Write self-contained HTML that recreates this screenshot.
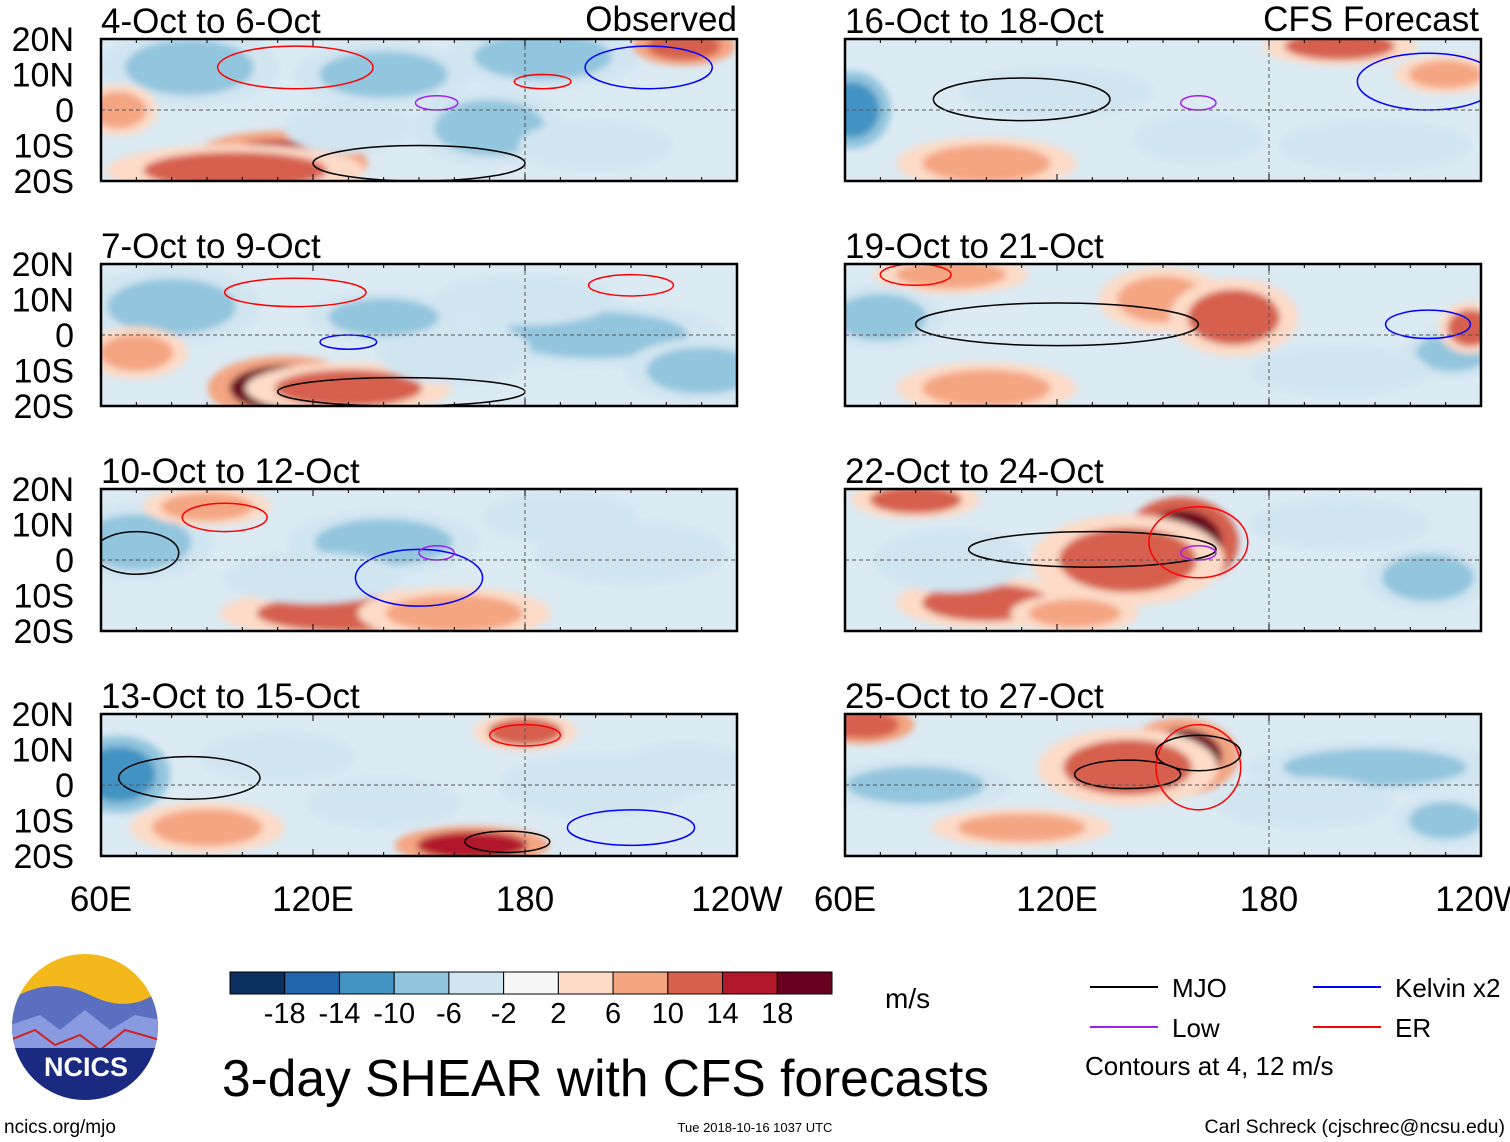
<!DOCTYPE html>
<html><head><meta charset="utf-8">
<style>
body{margin:0;background:#fff;width:1510px;height:1142px;overflow:hidden;font-family:"Liberation Sans",sans-serif}
svg{position:absolute;left:0;top:0}
</style></head>
<body>
<svg id="chart" width="1510" height="1142" viewBox="0 0 1510 1142" xmlns="http://www.w3.org/2000/svg">
<defs><filter id="blur" x="-20%" y="-20%" width="140%" height="140%"><feGaussianBlur stdDeviation="3.5"/></filter></defs>
<g id="panels"></g>
<g id="legend"></g>
</svg>
<script>
// colorbar levels and colors
const levelEdges=[-22,-18,-14,-10,-6,-2,2,6,10,14,18,22];
const levelLabels=["-18","-14","-10","-6","-2","2","6","10","14","18"];
const levelColors=["#0b2f5e","#2166ac","#4393c3","#92c5de","#d1e5f0","#f7f7f7","#fddbc7","#f4a582","#d6604d","#b2182b","#67001f"];
const panelTitles=["4-Oct to 6-Oct","7-Oct to 9-Oct","10-Oct to 12-Oct","13-Oct to 15-Oct","16-Oct to 18-Oct","19-Oct to 21-Oct","22-Oct to 24-Oct","25-Oct to 27-Oct"];
const latTicks=["20N","10N","0","10S","20S"];
const lonTicks=["60E","120E","180","120W"];
// anomaly blobs: panel, lon, lat, value, lon-radius, lat-radius
const blobPanel=[0,0,0,0,0,0,0,0,0,0, 1,1,1,1,1,1,1,1,1, 2,2,2,2,2,2,2,2, 3,3,3,3,3,3,3,3, 4,4,4,4,4,4,4, 5,5,5,5,5,5,5,5, 6,6,6,6,6,6,6,6, 7,7,7,7,7,7,7,7];
const blobLon=[85,185,110,98,225,170,65,140,200,130, 112,130,80,200,230,70,160,180,140, 130,160,70,140,90,210,120,190, 65,165,180,110,90,200,140,225, 62,200,100,230,160,120,210, 90,150,170,70,232,100,237,200, 155,140,80,100,125,225,200,90, 155,140,65,80,210,110,230,190];
const blobLat=[12,15,-15,-17,18,-5,0,10,-10,-5, -15,-15,8,0,-10,-5,-5,10,5, -15,-15,5,5,15,2,-5,12, 3,-17,15,8,-12,0,-5,5, 0,18,-15,10,-8,5,-10, 17,10,5,5,-5,-15,2,-10, 5,0,17,-12,-15,-5,10,0, 8,5,17,0,5,-12,-10,-5];
const blobVal=[-10,-10,16,10,12,-8,6,-8,-6,-6, 18,10,-10,-8,-8,6,-6,-6,-8, 10,8,-10,-10,6,-6,-6,-6, -14,14,10,-6,6,-6,-6,-6, -12,10,6,6,-6,-4,-4, 8,8,10,-8,-10,6,10,-4, 20,10,10,10,6,-10,-6,-6, 18,10,12,-10,-8,8,-10,-6];
const blobRx=[14,15,14,20,8,12,6,14,12,10, 12,16,14,20,12,8,12,14,12, 20,15,12,15,10,15,14,12, 8,12,8,12,12,15,12,10, 6,12,14,8,10,15,15, 12,10,10,10,8,14,5,14, 9,15,10,14,10,10,14,12, 9,14,8,15,20,14,8,14];
const blobRy=[6,5,5,4,3,6,4,5,4,4, 5,4,6,5,5,4,5,4,4, 4,4,6,5,3,5,4,4, 6,3,3,4,4,5,4,4, 6,3,4,3,4,4,4, 3,5,6,5,4,4,4,4, 7,7,3,4,3,5,4,5, 6,6,3,4,4,3,4,4];
// contours: panel, type(0 MJO,1 Low,2 Kelvin,3 ER), lon, lat, rx, ry
const cPanel=[0,0,0,0,0,1,1,1,1,2,2,2,2,3,3,3,3,4,4,4,5,5,5,6,6,6,7,7,7];
const cType=[3,3,0,2,1,3,3,0,2,0,3,2,1,0,0,2,3,0,2,1,0,3,2,0,3,1,0,3,0];
const cLon=[115,185,150,215,155,115,210,145,130,70,95,150,155,85,175,210,180,110,225,160,120,80,225,130,160,160,140,160,160];
const cLat=[12,8,-15,12,2,12,14,-16,-2,2,12,-5,2,2,-16,-12,14,3,8,2,3,17,3,3,5,2,3,5,9];
const cRx=[22,8,30,18,6,20,12,35,8,12,12,18,5,20,12,18,10,25,20,5,40,10,12,35,14,5,15,12,12];
const cRy=[6,2,5,6,2,4,3,4,2,6,4,8,2,6,3,5,3,6,8,2,6,3,4,5,10,2,4,12,5];
const cColors=["#000","#a020f0","#0000ff","#ff0000"];

const NS="http://www.w3.org/2000/svg";
const panelsG=document.getElementById('panels');
const PW=636, PH=142;
const panelX=[101,101,101,101,845,845,845,845];
const panelY=[39,264,489,714,39,264,489,714];
function xScale(p,lon){return panelX[p]+(lon-60)/180*PW;}
function yScale(p,lat){return panelY[p]+(20-lat)/40*PH;}
function colorFor(v){for(let i=0;i<levelColors.length;i++){if(v<levelEdges[i+1])return levelColors[i];}return levelColors[levelColors.length-1];}
function mk(tag,attrs,parent){const e=document.createElementNS(NS,tag);for(const k in attrs)e.setAttribute(k,attrs[k]);parent.appendChild(e);return e;}
function txt(x,y,s,size,anchor,parent){const t=mk('text',{x:x,y:y,'font-size':size,'text-anchor':anchor||'start',fill:'#000','font-family':'Liberation Sans, sans-serif'},parent);t.textContent=s;return t;}

for(let p=0;p<8;p++){
  const g=mk('g',{},panelsG);
  
  
  const cp=mk('clipPath',{id:'clip'+p},g);
  mk('rect',{x:panelX[p],y:panelY[p],width:PW,height:PH},cp);
  const inner=mk('g',{'clip-path':'url(#clip'+p+')'},g);
  mk('rect',{x:panelX[p],y:panelY[p],width:PW,height:PH,fill:'#dceaf3'},inner);
  const bg=mk('g',{filter:'url(#blur)'},inner);
  for(let i=0;i<blobPanel.length;i++){
    if(blobPanel[i]!==p)continue;
    const v=blobVal[i];
    const cx=xScale(p,blobLon[i]),cy=yScale(p,blobLat[i]);
    const rx=blobRx[i]/180*PW*1.3, ry=blobRy[i]/40*PH*1.3;
    const outer=mk('ellipse',{cx:cx,cy:cy,rx:rx*1.4,ry:ry*1.4,fill:colorFor(v*0.55)},bg);
    
    
    const e=mk('ellipse',{cx:cx,cy:cy,rx:rx,ry:ry,fill:colorFor(v)},bg);
    
    
  }
  for(let i=0;i<cPanel.length;i++){
    if(cPanel[i]!==p)continue;
    const e=mk('ellipse',{cx:xScale(p,cLon[i]),cy:yScale(p,cLat[i]),rx:cRx[i]/180*PW,ry:cRy[i]/40*PH,fill:'none',stroke:cColors[cType[i]],'stroke-width':1.5},inner);
    
    
  }
  mk('line',{x1:panelX[p],x2:panelX[p]+PW,y1:yScale(p,0),y2:yScale(p,0),stroke:'#555','stroke-dasharray':'4,3','stroke-width':1},inner);
  mk('line',{x1:xScale(p,180),x2:xScale(p,180),y1:panelY[p],y2:panelY[p]+PH,stroke:'#555','stroke-dasharray':'4,3','stroke-width':1},inner);
  mk('rect',{x:panelX[p],y:panelY[p],width:PW,height:PH,fill:'none',stroke:'#000','stroke-width':2.5},g);
  for(let lon=60;lon<=240;lon+=10){const x=xScale(p,lon);const L=(lon%60===0)?7:4;
    mk('line',{x1:x,x2:x,y1:panelY[p],y2:panelY[p]+L,stroke:'#000'},g);
    mk('line',{x1:x,x2:x,y1:panelY[p]+PH,y2:panelY[p]+PH-L,stroke:'#000'},g);}
  const tt=txt(panelX[p],panelY[p]-6,panelTitles[p],35,'start',g);
  
  
  if(p<4){latTicks.forEach((s,i)=>{const t=txt(74,yScale(p,20-i*10)+12,s,34,'end',g);
    
    });}
}
{const g=document.getElementById('panels');
 txt(737,31,'Observed',35,'end',g);
 txt(1479,31,'CFS Forecast',35,'end',g);
 [101,845].forEach((x0,k)=>lonTicks.forEach((s,i)=>{const t=txt(x0+i*212,911,s,35,'middle',g);
   
   }));}

const lg=document.getElementById('legend');
const cbX=230,cbY=972,cbW=602,cbH=22,bw=cbW/levelColors.length;
levelColors.forEach((c,i)=>{const r=mk('rect',{x:cbX+i*bw,y:cbY,width:bw,height:cbH,fill:c,stroke:'#000','stroke-width':1},lg);
  
  });
levelLabels.forEach((s,i)=>{const t=txt(cbX+(i+1)*bw,1023,s,29,'middle',lg);
  
  });
txt(885,1008,'m/s',28,'start',lg);
const tl=txt(222,1096,'3-day SHEAR with CFS forecasts',51.5,'start',lg);

const keys=[["MJO","#000",1090,987],["Low","#a020f0",1090,1027],["Kelvin x2","#0000ff",1313,987],["ER","#ff0000",1313,1027]];
keys.forEach(k=>{const l=mk('line',{x1:k[2],x2:k[2]+68,y1:k[3],y2:k[3],stroke:k[1],'stroke-width':2},lg);
  
  
  const t=txt(k[2]+82,k[3]+10,k[0],26,'start',lg);
  
  });
txt(1085,1075,'Contours at 4, 12 m/s',26,'start',lg);
txt(4,1133,'ncics.org/mjo',19,'start',lg);
txt(755,1132,'Tue 2018-10-16 1037 UTC',13,'middle',lg);
txt(1505,1133,'Carl Schreck (cjschrec@ncsu.edu)',19.5,'end',lg);
const logo=mk('g',{},lg);


const lc=mk('clipPath',{id:'logoclip'},logo);mk('circle',{cx:85,cy:1027,r:73},lc);
const li=mk('g',{'clip-path':'url(#logoclip)'},logo);
mk('rect',{x:10,y:950,width:150,height:160,fill:'#f2b81c'},li);
mk('path',{d:'M10 1000 Q50 975 90 995 T160 990 L160 1110 L10 1110Z',fill:'#5a6fc0'},li);
mk('path',{d:'M10 1025 L40 1015 L60 1030 L85 1010 L110 1030 L135 1015 L160 1020 L160 1110 L10 1110Z',fill:'#8a9ae0'},li);
mk('path',{d:'M10 1040 L35 1030 L55 1045 L80 1035 L100 1050 L125 1030 L160 1040',fill:'none',stroke:'#d02020','stroke-width':2},li);
mk('rect',{x:10,y:1048,width:150,height:70,fill:'#1a2a80'},li);
const lt=txt(86,1076,'NCICS',27,'middle',logo);lt.setAttribute('fill','#fff');lt.setAttribute('font-weight','bold');
</script>
</body></html>
